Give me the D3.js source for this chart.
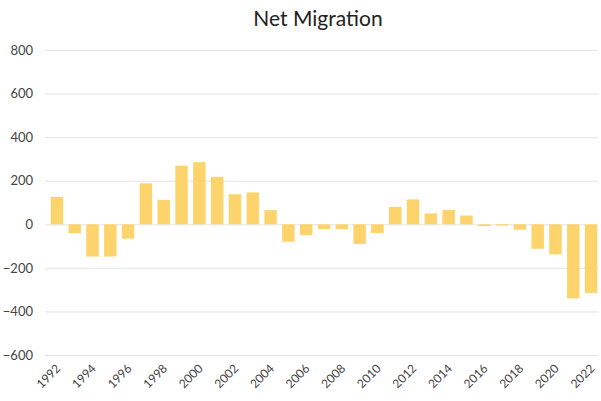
<!DOCTYPE html>
<html>
<head>
<meta charset="utf-8">
<script src="https://cdn.jsdelivr.net/npm/d3@7"></script>
<style>
  html, body { margin: 0; padding: 0; background: #fff; }
  svg { display: block; font-family: "Lato", "DejaVu Sans", sans-serif; }
</style>
</head>
<body>
<svg id="chart" width="601" height="401"></svg>
<script>
// Net migration by year (thousands)
const years = d3.range(1992, 2023);
const netMigration = [
  126, -41, -148, -148, -66, 188, 112, 269, 285, 218, 138, 146, 65, -80,
  -50, -22, -22, -90, -40, 80, 114, 50, 66, 40, -8, -6, -25, -112, -138, -340, -315
];
const yTicks = [-600, -400, -200, 0, 200, 400, 600, 800];
const xTickYears = years.filter(y => y % 2 === 0);

const svg = d3.select("#chart");
const plotLeft = 48, plotRight = 600, plotTop = 50, plotBottom = 355;

const x = d3.scaleBand().domain(years).range([plotLeft, plotRight]).paddingInner(0.3).paddingOuter(0.15);
const y = d3.scaleLinear().domain([-600, 800]).range([plotBottom, plotTop]);

// title
svg.append("text")
  .attr("x", 318).attr("y", 26)
  .attr("text-anchor", "middle")
  .attr("font-size", 21)
  .attr("fill", "#222")
  .text("Net Migration");

// horizontal gridlines + value labels
const yAxis = d3.axisLeft(y).tickValues(yTicks).tickSize(-(598 - 45)).tickPadding(12);
const gy = svg.append("g").attr("transform", "translate(45,0)").call(yAxis);
gy.select(".domain").remove();
gy.selectAll(".tick line").attr("stroke", "#e3e3e3").attr("stroke-width", 1);
gy.selectAll(".tick text").attr("font-size", 13).attr("fill", "#444")
  .attr("font-family", "Lato, 'DejaVu Sans', sans-serif");

// bars
svg.append("g").selectAll("rect")
  .data(years.map((yr, i) => ({ yr, v: netMigration[i] })))
  .join("rect")
  .attr("x", d => x(d.yr))
  .attr("width", x.bandwidth())
  .attr("y", d => y(Math.max(0, d.v)))
  .attr("height", d => Math.abs(y(d.v) - y(0)))
  .attr("fill", "#fdd46c");

// rotated year labels
const xAxis = d3.axisBottom(x).tickValues(xTickYears).tickSize(0).tickPadding(0);
const gx = svg.append("g").attr("transform", `translate(0,${plotBottom + 10})`).call(xAxis);
gx.select(".domain").remove();
gx.selectAll(".tick text")
  .attr("font-size", 12).attr("fill", "#444")
  .attr("font-family", "Lato, 'DejaVu Sans', sans-serif")
  .attr("text-anchor", "end")
  .attr("dy", "0.5em")
  .attr("transform", "rotate(-45)");
</script>
</body>
</html>
